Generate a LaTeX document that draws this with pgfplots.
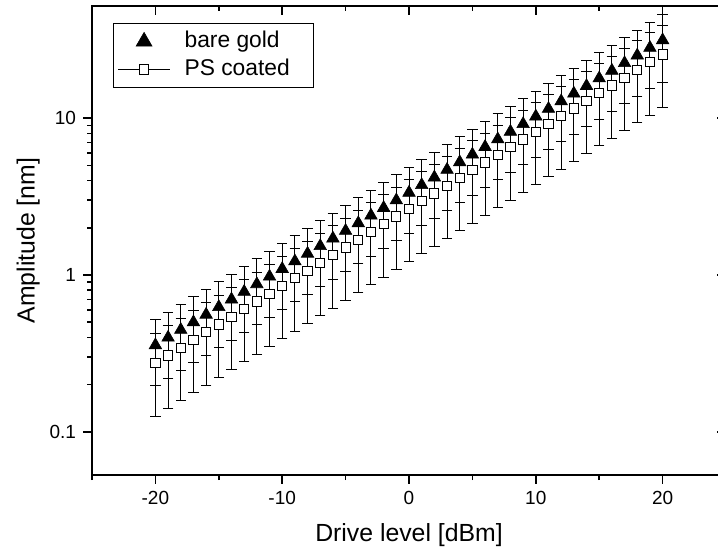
\documentclass[border=0pt]{standalone}
\usepackage{fontspec}
\setmainfont{Liberation Sans}
\usepackage{pgfplots}
\usepackage{pgfplotstable}
\pgfplotsset{compat=1.18}
\pgfplotsset{
  trileg/.style={legend image code/.code={\draw[mark repeat=2, mark phase=2, ##1, mark size=4.6pt]
     plot coordinates {(0pt,0pt) (13pt,0pt) (26pt,0pt)};}},
  sqleg/.style={legend image code/.code={\draw[mark repeat=2, mark phase=2, ##1, sharp plot, black, line width=0.5pt]
     plot coordinates {(0pt,0pt) (13pt,0pt) (26pt,0pt)};}},
}

\pgfplotstableread{
x y err
-20 0.357 0.161
-19 0.399 0.180
-18 0.447 0.201
-17 0.500 0.225
-16 0.559 0.252
-15 0.625 0.281
-14 0.699 0.315
-13 0.782 0.352
-12 0.875 0.394
-11 0.978 0.440
-10 1.094 0.492
-9 1.224 0.551
-8 1.369 0.616
-7 1.531 0.689
-6 1.712 0.770
-5 1.915 0.862
-4 2.142 0.964
-3 2.396 1.078
-2 2.680 1.206
-1 2.998 1.349
0 3.353 1.509
1 3.750 1.688
2 4.195 1.888
3 4.692 2.111
4 5.248 2.362
5 5.870 2.642
6 6.565 2.954
7 7.343 3.304
8 8.213 3.696
9 9.187 4.134
10 10.27 4.62
11 11.49 5.17
12 12.85 5.78
13 14.38 6.47
14 16.08 7.24
15 17.99 8.10
16 20.12 9.05
17 22.50 10.13
18 25.17 11.33
19 28.15 12.67
20 31.49 14.70
}\baregold

\pgfplotstableread{
x y err
-20 0.274 0.148
-19 0.307 0.166
-18 0.344 0.186
-17 0.385 0.208
-16 0.431 0.233
-15 0.483 0.261
-14 0.541 0.292
-13 0.606 0.327
-12 0.678 0.366
-11 0.760 0.410
-10 0.851 0.460
-9 0.953 0.515
-8 1.067 0.576
-7 1.195 0.645
-6 1.339 0.723
-5 1.499 0.809
-4 1.679 0.907
-3 1.881 1.016
-2 2.107 1.138
-1 2.359 1.274
0 2.642 1.427
1 2.960 1.598
2 3.315 1.790
3 3.713 2.005
4 4.158 2.245
5 4.657 2.515
6 5.216 2.817
7 5.842 3.155
8 6.543 3.533
9 7.328 3.957
10 8.208 4.432
11 9.193 4.964
12 10.30 5.562
13 11.53 6.226
14 12.92 6.977
15 14.47 7.814
16 16.20 8.748
17 18.15 9.801
18 20.32 10.97
19 22.76 12.29
20 25.50 13.77
}\pscoated

\begin{document}
\begin{tikzpicture}
\begin{axis}[name=main,
    scale only axis,
    width=317pt, height=234.5pt,
    xmin=-25, xmax=25, ymin=0.053, ymax=52,
    ymode=log,
    xtick={-20,-10,0,10,20},
    minor xtick={-25,-15,-5,5,15,25},
    ytick={0.1,1,10},
    yticklabels={0.1,1,10},
    axis line style={line width=1pt},
    major tick length=4.5pt,
    minor tick length=2.5pt,
    every tick/.append style={black, line width=0.8pt},
    /pgf/number format/assume math mode=true,
    tick align=outside,
    xtick pos=left, ytick pos=left,
    tick label style={font=\fontsize{9.5}{11}\selectfont},
    xlabel={Drive level [dBm]},
    ylabel={Amplitude [nm]},
    label style={font=\fontsize{12.4}{14}\selectfont},
    xlabel style={yshift=-2.5pt},
    ylabel style={yshift=-2pt},
    legend style={at={(0.0331,0.9638)}, anchor=north west, draw=black, line width=0.6pt,
      font=\fontsize{11.4}{14}\selectfont, inner xsep=2pt, inner ysep=2.5pt, row sep=1pt,
      column sep=0pt,
      nodes={inner sep=1pt, text height=8.5pt, text depth=2.5pt}},
    legend cell align=left,
]
\addplot[only marks, mark=triangle*, mark size=3.6pt, mark options={fill=black, draw=black, line width=0.3pt},
  trileg,
  error bars/.cd, y dir=both, y explicit,
  error bar style={black, line width=0.5pt},
  error mark options={rotate=90, black, mark size=2.6pt, line width=0.5pt}]
  table[x=x, y=y, y error=err] {\baregold};
\addlegendentry{\hspace*{6pt}bare gold\hspace*{9pt}}
\addplot[only marks, mark=square*, mark size=2.3pt, mark options={fill=white, draw=black, line width=0.5pt},
  sqleg,
  error bars/.cd, y dir=both, y explicit,
  error bar style={black, line width=0.5pt},
  error mark options={rotate=90, black, mark size=2.6pt, line width=0.5pt}]
  table[x=x, y=y, y error=err] {\pscoated};
\addlegendentry{\hspace*{6pt}PS coated\hspace*{9pt}}
\end{axis}
\begin{axis}[
    scale only axis,
    width=317pt, height=234.5pt,
    at={(main.south west)}, anchor=south west,
    xmin=-25, xmax=25, ymin=0.053, ymax=52,
    ymode=log,
    xtick={-20,-10,0,10,20},
    minor xtick={-25,-15,-5,5,15,25},
    ytick={0.1,1,10},
    axis line style={line width=1pt},
    major tick length=4.5pt,
    minor tick length=2.5pt,
    every tick/.append style={black, line width=0.8pt},
    tick align=inside,
    xtick pos=right, ytick pos=right,
    xticklabels={}, yticklabels={},
]
\end{axis}
\pgfresetboundingbox
\useasboundingbox ([shift={(-46pt,-39pt)}]main.south west) rectangle ([shift={(-4pt,3pt)}]main.north east);
\end{tikzpicture}
\end{document}
